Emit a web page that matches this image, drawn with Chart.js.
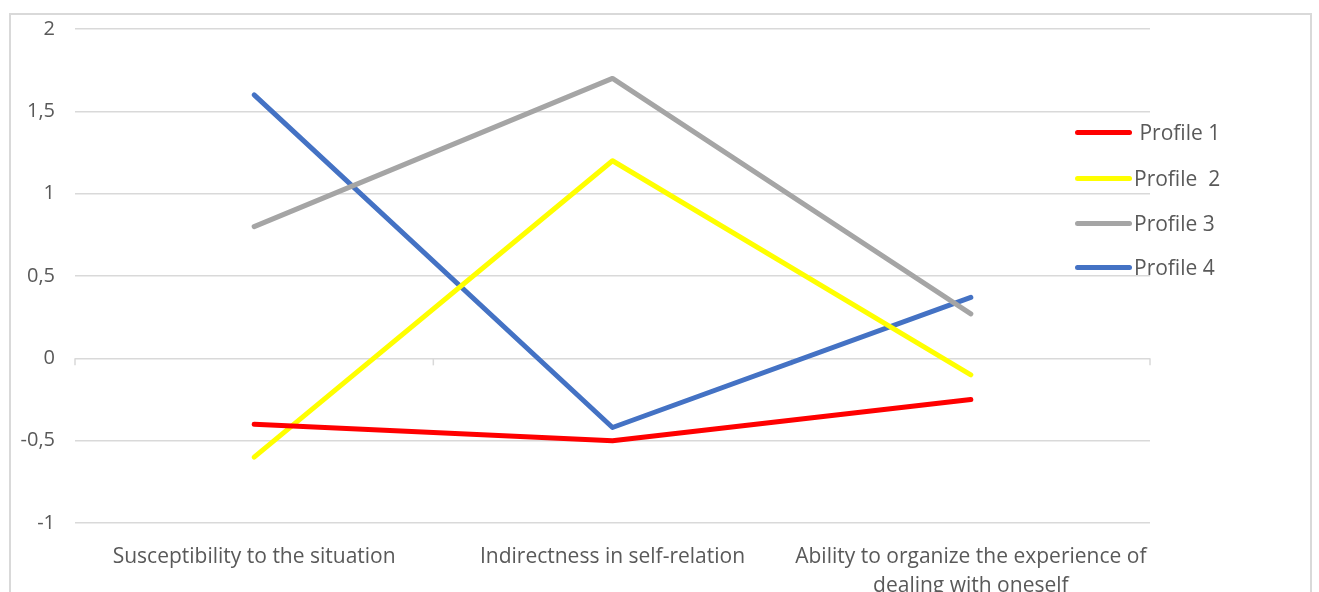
<!DOCTYPE html>
<html>
<head>
<meta charset="utf-8">
<script src="https://cdn.jsdelivr.net/npm/chart.js@4.4.0/dist/chart.umd.min.js"></script>
<style>
    body { margin: 0; background: #fff; font-family: "Open Sans", sans-serif; }
    #marco {
        position: absolute; left: 9px; top: 13px; width: 1299px; height: 600px;
        border-left: 2px solid #d9d9d9; border-top: 2px solid #d9d9d9; border-right: 2px solid #d9d9d9;
    }
    #printChartId { position: absolute; left: 0; top: -18px; }
    #leyenda { position: absolute; left: 1075px; top: 121px; }
    .item { position: absolute; left: 0; height: 24px; width: 220px; }
    .linea { position: absolute; left: 0; top: 9px; width: 57px; height: 5px; border-radius: 3px; }
    .texto { position: absolute; left: 59px; top: -2px; font-size: 21px; color: #595959; white-space: pre; line-height: 26px; }
</style>
</head>
<body>
<div id="marco"><canvas id="printChartId" width="1299" height="596"></canvas></div>
<div id="leyenda"></div>
<script>
// categorias del eje x
var categorias = [
    "Susceptibility to the situation",
    "Indirectness in self-relation",
    ["Ability to organize the experience of", "dealing with oneself"]
];

// series
var etiquetas = [" Profile 1", "Profile  2", "Profile 3", "Profile 4"];
var profile1 = [-0.4, -0.5, -0.25];
var profile2 = [-0.6, 1.2, -0.1];
var profile3 = [0.8, 1.7, 0.27];
var profile4 = [1.6, -0.42, 0.37];
var colores = ["#FF0000", "#FFFF00", "#A5A5A5", "#4472C4"];

// eje y
var yMin = -1;
var yMax = 2;
var yPaso = 0.5;

var series = [profile1, profile2, profile3, profile4];
var dataset = new Array();
for (var i = 0; i < series.length; i++) {
    dataset.push({
        label: etiquetas[i],
        data: series[i],
        borderColor: colores[i],
        backgroundColor: colores[i],
        borderWidth: 5,
        borderCapStyle: 'round',
        borderJoinStyle: 'round',
        pointRadius: 0,
        tension: 0
    });
}

// linea del cero con marcas entre categorias
var ejeCero = {
    id: 'ejeCero',
    beforeDatasetsDraw: function (chart) {
        var ctx = chart.ctx;
        var x = chart.scales.x;
        var y0 = chart.scales.y.getPixelForValue(0);
        ctx.save();
        ctx.strokeStyle = '#d9d9d9';
        ctx.lineWidth = 1.5;
        for (var k = 0; k <= categorias.length; k++) {
            var px = x.getPixelForValue(k - 0.5);
            ctx.beginPath();
            ctx.moveTo(px, y0);
            ctx.lineTo(px, y0 + 7);
            ctx.stroke();
        }
        ctx.restore();
    }
};

var chart = new Chart(document.getElementById("printChartId"), {
    type: 'line',
    data: { labels: categorias, datasets: dataset },
    options: {
        responsive: false,
        animation: false,
        layout: { padding: { top: 0, right: 160, left: 0, bottom: 0 } },
        plugins: { legend: { display: false }, tooltip: { enabled: false } },
        scales: {
            x: {
                offset: true,
                grid: { display: false },
                border: { display: false },
                ticks: {
                    font: { family: 'Open Sans', size: 21, lineHeight: 1.4 },
                    color: '#595959',
                    padding: 11,
                    maxRotation: 0,
                    autoSkip: false
                },
                afterFit: function (scale) { scale.height = 70; }
            },
            y: {
                min: yMin,
                max: yMax,
                grid: { color: '#d9d9d9', lineWidth: 1.5, drawTicks: false },
                border: { display: false },
                ticks: {
                    stepSize: yPaso,
                    padding: 20,
                    font: { family: 'Open Sans', size: 20 },
                    color: '#595959',
                    callback: function (v) { return String(v).replace('.', ','); }
                },
                afterFit: function (scale) { scale.width = 64; }
            }
        }
    },
    plugins: [ejeCero]
});

// leyenda a la derecha
var filas = [0, 46, 91, 135];
var leyenda = document.getElementById("leyenda");
for (var j = 0; j < etiquetas.length; j++) {
    var item = document.createElement("div");
    item.className = "item";
    item.style.top = filas[j] + "px";
    item.innerHTML = '<div class="linea" style="background:' + colores[j] + '"></div><div class="texto"></div>';
    item.querySelector(".texto").textContent = etiquetas[j];
    leyenda.appendChild(item);
}
</script>
</body>
</html>
